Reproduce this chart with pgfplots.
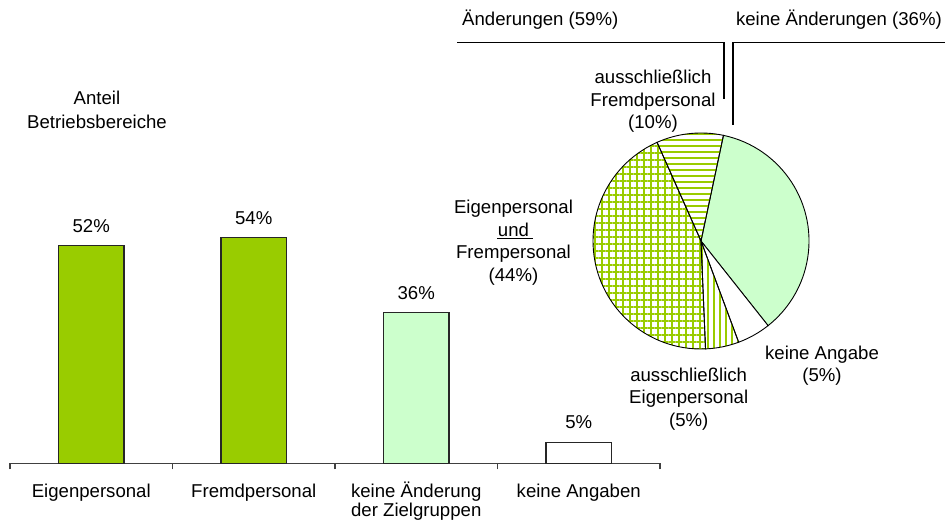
\documentclass[border=0pt]{standalone}
\usepackage{fontspec}
\setmainfont{Liberation Sans}
\usepackage{pgfplots}
\pgfplotsset{compat=1.18}
\usetikzlibrary{patterns.meta}
\definecolor{barGreen}{HTML}{99CC00}
\definecolor{paleGreen}{HTML}{CCFFCC}
\tikzset{stripes/.style={pattern={Lines[angle=#1, distance=6pt, line width=2pt]}, pattern color=barGreen},
         gridlines/.style={pattern={Lines[angle=#1, distance=7pt, line width=2.3pt]}, pattern color=barGreen}}

% Kreisdiagramm: Anteile in Prozent, im Uhrzeigersinn ab 78 Grad
\pgfmathsetmacro\aA{78}
\pgfmathsetmacro\aB{\aA-3.6*36} % keine Aenderungen
\pgfmathsetmacro\aC{\aB-3.6*5}  % keine Angabe
\pgfmathsetmacro\aD{\aC-3.6*5}  % ausschl. Eigenpersonal
\pgfmathsetmacro\aE{\aD-3.6*44} % Eigen- und Fremdpersonal
\pgfmathsetmacro\aF{\aE-3.6*10} % ausschl. Fremdpersonal

\begin{document}
\begin{tikzpicture}[x=1pt, y=1pt, font=\fontsize{18.6}{23.5}\selectfont]
\useasboundingbox (0,0) rectangle (945,524);
\begin{axis}[at={(10pt,60.7pt)}, anchor=south west,
    scale only axis, width=650pt, height=418pt,
    xmin=-0.5, xmax=3.5, ymin=0, ymax=100, clip=false,
    axis x line=bottom, axis y line=none,
    axis line style={-, line width=1.1pt, black!75},
    xtick={-0.5,0.5,1.5,2.5,3.5}, xticklabels={},
    tick align=outside, major tick length=6pt,
    tick style={line width=1.1pt, black!75},
    extra x ticks={0,1,2,3},
    extra x tick labels={Eigenpersonal, Fremdpersonal,
        {\begin{tabular}[t]{@{}c@{}}keine Änderung\\der Zielgruppen\end{tabular}}, keine Angaben},
    extra x tick style={major tick length=0pt,
        xticklabel style={anchor=base, yshift=-34pt, font=\fontsize{18.6}{19.4}\selectfont}},
    /pgf/number format/assume math mode=true,
    nodes near coords={\pgfmathprintnumber{\pgfplotspointmeta}\%},
    every node near coord/.append style={anchor=base, yshift=13.4pt, font=\fontsize{18.6}{23.5}\selectfont}]
\addplot[ybar, bar width=65.5pt, bar shift=0pt, fill=barGreen, draw=black!85, line width=1.1pt]
    coordinates {(0,52) (1,54)};
\addplot[ybar, bar width=65.5pt, bar shift=0pt, fill=paleGreen, draw=black!85, line width=1.1pt]
    coordinates {(2,36)};
\addplot[ybar, bar width=65.5pt, bar shift=0pt, fill=white, draw=black!85, line width=1.1pt]
    coordinates {(3,5)};
\end{axis}

\begin{axis}[at={(701pt,283pt)}, anchor=center, hide axis, clip=false,
    x=1pt, y=1pt, xmin=-110, xmax=110, ymin=-110, ymax=110]
\filldraw[fill=paleGreen, draw=black, line width=0.9pt]
    (axis cs:0,0) -- ++(\aA:108pt) arc[start angle=\aA, end angle=\aB, radius=108pt] -- cycle;
\filldraw[fill=white, draw=black, line width=0.9pt]
    (axis cs:0,0) -- ++(\aB:108pt) arc[start angle=\aB, end angle=\aC, radius=108pt] -- cycle;
\path[stripes=90]
    (axis cs:0,0) -- ++(\aC:108pt) arc[start angle=\aC, end angle=\aD, radius=108pt] -- cycle;
\path[gridlines=0, postaction={gridlines=90}]
    (axis cs:0,0) -- ++(\aD:108pt) arc[start angle=\aD, end angle=\aE, radius=108pt] -- cycle;
\path[stripes=0]
    (axis cs:0,0) -- ++(\aE:108pt) arc[start angle=\aE, end angle=\aF, radius=108pt] -- cycle;
\draw[black, line width=0.9pt]
    (axis cs:0,0) -- ++(\aC:108pt) arc[start angle=\aC, end angle=\aD, radius=108pt] -- cycle;
\draw[black, line width=0.9pt]
    (axis cs:0,0) -- ++(\aD:108pt) arc[start angle=\aD, end angle=\aE, radius=108pt] -- cycle;
\draw[black, line width=0.9pt]
    (axis cs:0,0) -- ++(\aE:108pt) arc[start angle=\aE, end angle=\aF, radius=108pt] -- cycle;
\end{axis}

% Beschriftungen
\node[anchor=base] at (97,419.1) {Anteil};
\node[anchor=base] at (97,395.7) {Betriebsbereiche};
\node[anchor=base west, inner sep=0pt] at (462,498) {Änderungen (59\%)};
\node[anchor=base east, inner sep=0pt] at (942,498) {keine Änderungen (36\%)};
\draw[line width=1.1pt] (457,481.3) -- (724,481.3) -- (724,425);
\draw[line width=1.1pt] (945,481.3) -- (733,481.3) -- (733,399);
\node[anchor=base] at (653,440.7) {ausschließlich};
\node[anchor=base] at (653,417.4) {Fremdpersonal};
\node[anchor=base] at (653,395.4) {(10\%)};
\node[anchor=base] at (513.5,310.7) {Eigenpersonal};
\node[anchor=base] at (513.5,287.4) {und};
\draw[line width=1pt] (497,285.5) -- (533,285.5);
\node[anchor=base] at (513.5,265.7) {Frempersonal};
\node[anchor=base] at (513.5,242.4) {(44\%)};
\node[anchor=base] at (688.7,142.4) {ausschließlich};
\node[anchor=base] at (688.7,120.7) {Eigenpersonal};
\node[anchor=base] at (688.7,97.4) {(5\%)};
\node[anchor=base] at (822,164.7) {keine Angabe};
\node[anchor=base] at (822,142.4) {(5\%)};
\end{tikzpicture}
\end{document}
